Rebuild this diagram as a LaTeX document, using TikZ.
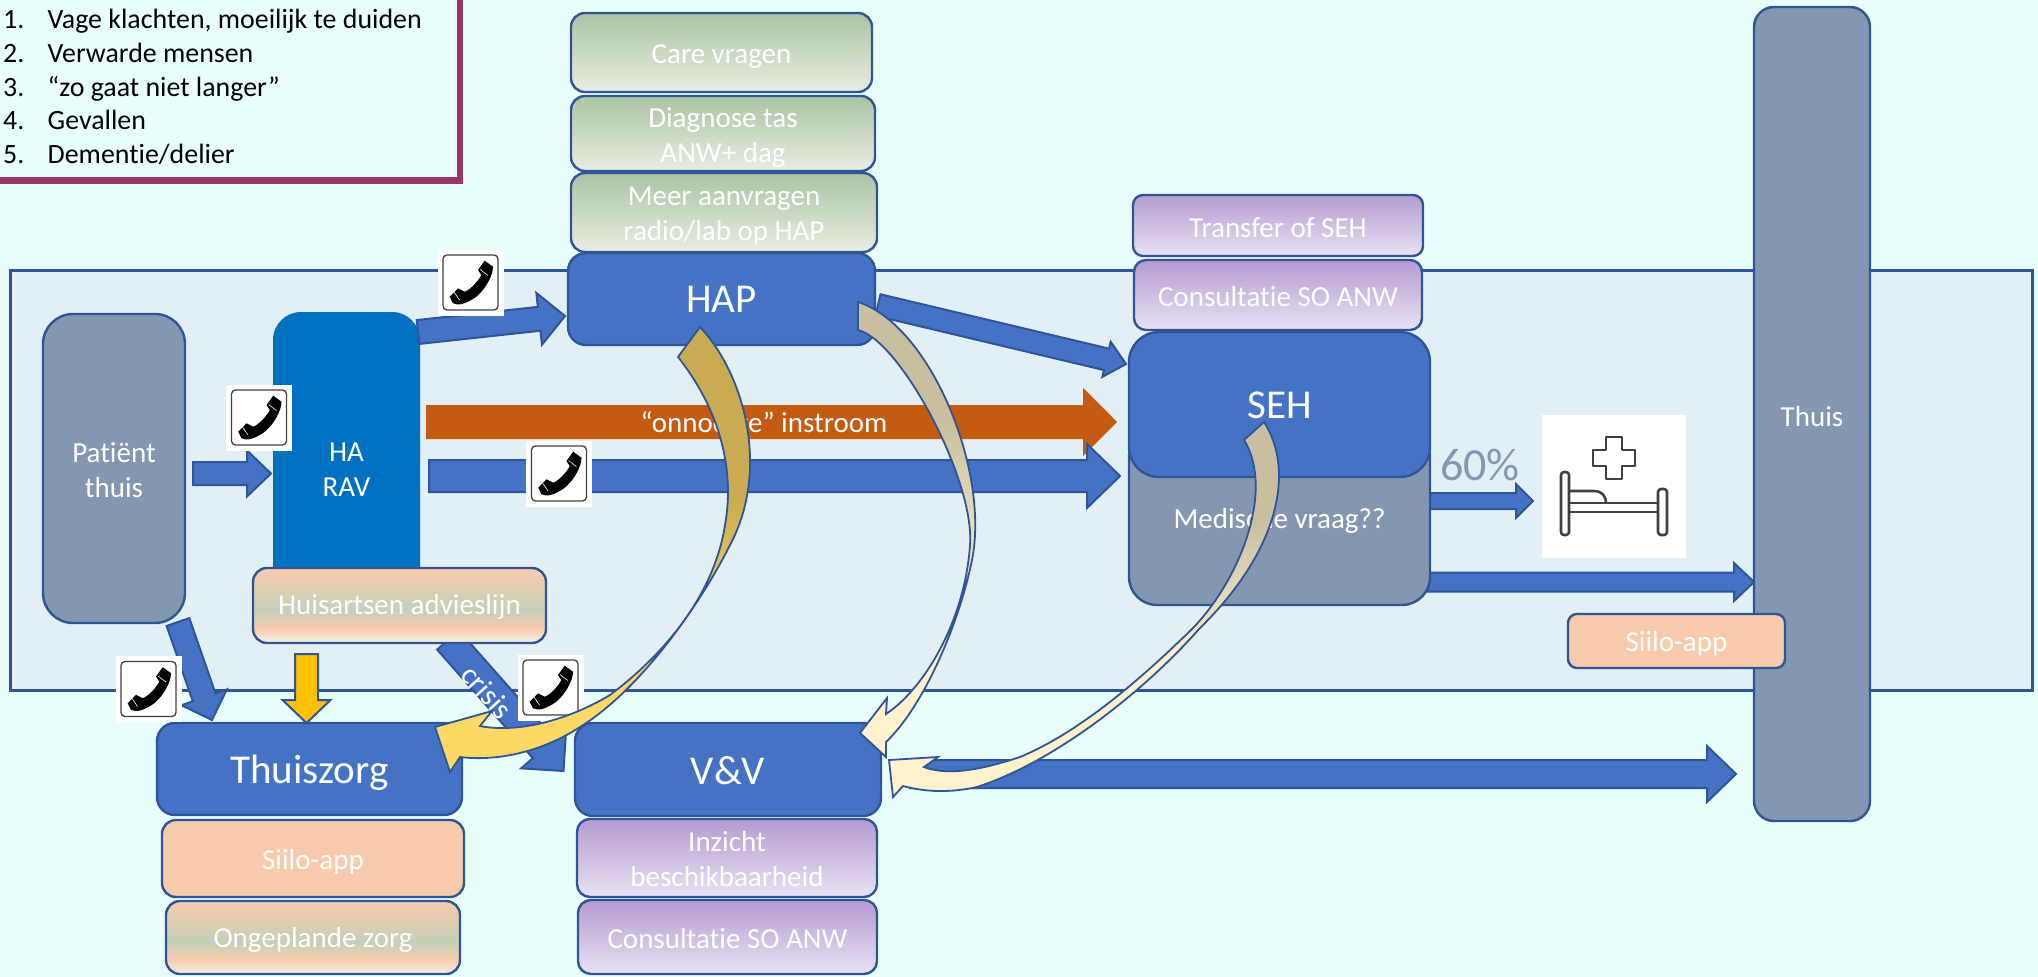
\documentclass[tikz,border=0pt]{standalone}
\usepackage{fontspec}
\setmainfont{Carlito}[Ligatures=NoCommon]
\usetikzlibrary{calc}
\definecolor{bgc}{HTML}{E9FFFD}
\definecolor{panelc}{HTML}{E2EFF4}
\definecolor{linec}{HTML}{2F5597}
\definecolor{bluec}{HTML}{4472C4}
\definecolor{rav}{HTML}{0070C0}
\definecolor{greyc}{HTML}{8497B0}
\definecolor{orangec}{HTML}{C55A11}
\definecolor{goldc}{HTML}{FFC000}
\definecolor{peachc}{HTML}{F8CBAD}
\definecolor{maroon}{HTML}{9B3565}
\definecolor{gtop}{HTML}{ABC4A3}
\definecolor{gbot}{HTML}{E9EDE3}
\definecolor{ptop}{HTML}{B49BD2}
\definecolor{pbot}{HTML}{E8E2F2}
\definecolor{pmid}{HTML}{C5D0B8}
\definecolor{pend}{HTML}{F0F2EC}
\definecolor{tan1}{HTML}{C9AC52}
\definecolor{yel1}{HTML}{FFD966}
\definecolor{tan2}{HTML}{C9BFA0}
\definecolor{cream}{HTML}{FFF2CC}
\pgfdeclareverticalshading{greensh}{100bp}{color(0bp)=(gbot); color(25bp)=(gbot); color(75bp)=(gtop); color(100bp)=(gtop)}
\pgfdeclareverticalshading{purplesh}{100bp}{color(0bp)=(pbot); color(25bp)=(pbot); color(75bp)=(ptop); color(100bp)=(ptop)}
\pgfdeclareverticalshading{peachsh}{100bp}{color(0bp)=(pend); color(25bp)=(pend); color(35bp)=(peachc); color(47bp)=(pmid); color(75bp)=(peachc); color(100bp)=(peachc)}
\pgfdeclareverticalshading{yellowsh}{100bp}{color(0bp)=(yel1); color(39bp)=(yel1); color(56bp)=(tan1); color(100bp)=(tan1)}
\pgfdeclareverticalshading{creamsh}{100bp}{color(0bp)=(cream); color(43bp)=(cream); color(62bp)=(tan2); color(100bp)=(tan2)}
% text line with its baseline a set distance below the node's centre line
\newcommand{\dn}[2]{\raisebox{-#1pt}[0pt][0pt]{#2}}
\tikzset{
  x=1pt,y=-1pt,
  boxbase/.style={draw=linec,line width=2.4pt,align=center,inner sep=0pt,text=white,font=\fontsize{29}{35}\selectfont},
  bigbox/.style={boxbase,fill=bluec,rounded corners=18pt,font=\fontsize{41}{48}\selectfont},
  greybox/.style={boxbase,fill=greyc},
  greenbox/.style={boxbase,shade,shading=greensh,rounded corners=14pt},
  purplebox/.style={boxbase,shade,shading=purplesh,rounded corners=13pt},
  peachbox/.style={boxbase,shade,shading=peachsh,rounded corners=14pt},
  siilobox/.style={boxbase,fill=peachc,rounded corners=12pt},
  arrowblue/.style={draw=linec,fill=bluec,line width=2pt,miter limit=20},
  arroworange/.style={fill=orangec},
  arrowgold/.style={draw=linec,fill=goldc,line width=2pt,miter limit=20},
  curveyellow/.style={draw=linec,line width=1.8pt,shade,shading=yellowsh,miter limit=20},
  curvecream/.style={draw=linec,line width=1.8pt,shade,shading=creamsh,miter limit=20},
  phonebg/.style={fill=white,minimum width=66pt,minimum height=66pt,inner sep=0pt},
  phoneinner/.style={draw=black!75,fill=white,line width=1.3pt,rounded corners=4pt,minimum width=55pt,minimum height=55pt,inner sep=0pt},
  bedline/.style={draw=black!75,line width=2.6pt,line join=round}
}
% [style]{from}{to}{half body}{half head}{head length}
\newcommand{\blockarrow}[6][arrowblue]{%
  \coordinate (ba@h) at ($(#3)!#6!(#2)$);
  \path[#1] ($(#2)!#4!90:(#3)$) -- ($(ba@h)!#4!90:(#3)$) -- ($(ba@h)!#5!90:(#3)$) -- (#3)
    -- ($(ba@h)!#5!-90:(#3)$) -- ($(ba@h)!#4!-90:(#3)$) -- ($(#2)!#4!-90:(#3)$) -- cycle;
}
\newcommand{\phoneicon}[3]{%
  \node[phonebg] (#1) at (#2,#3) {};
  \node[phoneinner] (#1in) at (#1.center) {};
  \begin{scope}[shift={($(#1.center)+(-27.5,-27.5)$)}]
    \fill[black] (41.7,5.7) -- (50,11.7) .. controls (50,20) and (43.3,33.3) .. (33.3,41.7)
      .. controls (23.3,49) and (15,51) .. (10,48.3) -- (6.7,41.7) -- (15,33.3) -- (21.7,36.7)
      .. controls (26.7,35) and (35,26.7) .. (38.3,20) -- (35,15) -- cycle;
    \draw[white,line width=.6pt] (37,14.5) -- (45,20.5) (11,37) -- (16.5,45);
  \end{scope}
}
\begin{document}
\begin{tikzpicture}
\useasboundingbox (0,0) rectangle (2038,977);
\fill[bgc] (0,0) rectangle (2038,977);

% legend
\node[draw=maroon,line width=6.5pt,fill=bgc,outer sep=0pt,minimum width=480pt,minimum height=200pt,inner sep=0pt,anchor=south east] (legendbox) at (460,180.5) {};
\node[anchor=west,inner sep=0pt,align=left,font=\fontsize{27.9}{33.6}\selectfont] (legend) at (3,87) {%
  \makebox[44.5pt][l]{1.}Vage klachten, moeilijk te duiden\\
  \makebox[44.5pt][l]{2.}Verwarde mensen\\
  \makebox[44.5pt][l]{3.}“zo gaat niet langer”\\
  \makebox[44.5pt][l]{4.}Gevallen\\
  \makebox[44.5pt][l]{5.}Dementie/delier};

% panel
\node[draw=linec,fill=panelc,line width=3pt,minimum width=2022pt,minimum height=420pt,inner sep=0pt] (panel) at (1021,480) {};

% Thuis column
\node[greybox,rounded corners=20pt,minimum width=116pt,minimum height=814pt] (thuis) at (1812,414) {\dn{12.5}{Thuis}};

% coordinates for arrow ends
\coordinate (patS) at (193,473.5); \coordinate (haL) at (271,473.5);
\coordinate (haS) at (418,332);    \coordinate (hapL) at (565,316);
\coordinate (raS) at (429,476);    \coordinate (sehL) at (1120,476);
\coordinate (orS) at (426,422);    \coordinate (sehO) at (1117,422);
\coordinate (hapS) at (878,305);   \coordinate (sehT) at (1126,364);
\coordinate (sehA) at (1430,501);  \coordinate (bedL) at (1533,501);
\coordinate (sehB) at (1428,582);  \coordinate (thuisL) at (1754,582);
\coordinate (vvS) at (910,774);    \coordinate (thuisB) at (1736,774);
\coordinate (patB) at (178,622);   \coordinate (tzL) at (212,720);
\coordinate (advS) at (306.5,654); \coordinate (tzG) at (306.5,723);
\coordinate (advC) at (448,640);   \coordinate (vvC) at (563.5,771);

% HA / RAV and Patient
\node[boxbase,draw=none,fill=rav,rounded corners=28pt,minimum width=147pt,minimum height=312pt] (ha) at (346.5,468) {\dn{10.5}{HA}\\\dn{10.5}{RAV}};
\node[greybox,rounded corners=30pt,minimum width=142pt,minimum height=309pt] (pat) at (114,468.5) {\dn{11}{Patiënt}\\\dn{11}{thuis}};

% straight arrows
\blockarrow{patS}{haL}{11.5pt}{23pt}{24pt}
\blockarrow{haS}{hapL}{12pt}{26pt}{26pt}
\blockarrow[arroworange]{orS}{sehO}{17pt}{34pt}{34pt}
\node[text=white,font=\fontsize{29}{35}\selectfont,inner sep=0pt] (onn) at (764,425) {“onnodige” instroom};
\blockarrow{raS}{sehL}{16pt}{32pt}{33pt}
\blockarrow{hapS}{sehT}{11pt}{18pt}{20pt}
\blockarrow{sehA}{bedL}{8pt}{17pt}{17pt}
\blockarrow{sehB}{thuisL}{9.5pt}{19pt}{20pt}
\blockarrow{vvS}{thuisB}{14pt}{28pt}{29pt}
\blockarrow{patB}{tzL}{12pt}{24pt}{24pt}
\blockarrow[arrowgold]{advS}{tzG}{11.5pt}{24pt}{23pt}
\blockarrow{advC}{vvC}{14.5pt}{30pt}{30pt}
\node[text=white,rotate=-48,font=\fontsize{30}{35}\selectfont,inner sep=0pt] (crisis) at (487,692) {crisis};

% top stack
\node[greenbox,minimum width=301pt,minimum height=79pt] (care) at (721.5,52.5) {\dn{10.5}{Care vragen}};
\node[greenbox,minimum width=304pt,minimum height=75pt] (diag) at (723,133.5) {\dn{11}{Diagnose tas}\\\dn{11}{ANW+ dag}};
\node[greenbox,minimum width=306pt,minimum height=79pt] (meer) at (724,212.5) {\dn{10.5}{Meer aanvragen}\\\dn{10.5}{radio/lab op HAP}};
\node[bigbox,minimum width=307pt,minimum height=92pt] (hap) at (721.5,299) {\dn{13}{HAP}};

% adviesline
\node[peachbox,minimum width=293pt,minimum height=75pt] (adv) at (399.5,605.5) {\dn{9}{Huisartsen advieslijn}};

% bottom stacks
\node[bigbox,minimum width=305pt,minimum height=92pt] (tz) at (309.5,769) {\dn{14}{Thuiszorg}};
\node[siilobox,rounded corners=14pt,minimum width=302pt,minimum height=77pt] (siilo1) at (313,858.5) {\dn{11}{Siilo-app}};
\node[peachbox,minimum width=294pt,minimum height=73pt] (onge) at (313,937.5) {\dn{9.5}{Ongeplande zorg}};
\node[bigbox,minimum width=306pt,minimum height=93pt] (vv) at (728,769.5) {\dn{14.5}{V\&V}};
\node[purplebox,minimum width=300pt,minimum height=78pt] (inz) at (727,858) {\dn{11}{Inzicht}\\\dn{11}{beschikbaarheid}};
\node[purplebox,minimum width=299pt,minimum height=74pt] (cons1) at (727.5,937) {\dn{11}{Consultatie SO ANW}};

% SEH stack
\node[purplebox,rounded corners=10pt,minimum width=290pt,minimum height=61pt] (trans) at (1278,225.5) {\dn{11.5}{Transfer of SEH}};
\node[purplebox,rounded corners=12pt,minimum width=288pt,minimum height=70pt] (cons2) at (1278,295) {\dn{11}{Consultatie SO ANW}};
\node[greybox,rounded corners=28pt,minimum width=301pt,minimum height=175pt] (med) at (1279.5,517.5) {\dn{11}{Medische vraag??}};
\node[bigbox,rounded corners=30pt,minimum width=301pt,minimum height=145pt] (seh) at (1279.5,404.5) {\dn{14}{SEH}};

% 60 %, bed, Siilo
\node[text=greyc,font=\fontsize{46}{50}\selectfont,inner sep=0pt] (pct) at (1480,465) {60\%};
\node[fill=white,minimum width=144pt,minimum height=143pt,inner sep=0pt] (bedimg) at (1614,486.5) {};
\draw[bedline] (1606,437) -- (1622,437) -- (1622,450) -- (1635,450) -- (1635,466) -- (1622,466) -- (1622,479) -- (1606,479) -- (1606,466) -- (1593,466) -- (1593,450) -- (1606,450) -- cycle;
\draw[bedline,rounded corners=3pt] (1561,472) rectangle (1569,535);
\draw[bedline,rounded corners=3pt] (1658,489) rectangle (1667,535);
\draw[bedline] (1569,503) -- (1658,503) (1569,512) -- (1658,512);
\draw[bedline] (1569,491) -- (1594,491) .. controls (1602,491) and (1606,496) .. (1606,503);
\node[siilobox,rounded corners=9pt,minimum width=217pt,minimum height=54pt] (siilo2) at (1676.5,641) {\dn{10.5}{Siilo-app}};

% phones
\phoneicon{ph1}{470.5}{282.5}
\phoneicon{ph2}{259}{417.5}
\phoneicon{ph3}{559}{473.5}
\phoneicon{ph4}{148.5}{689}
\phoneicon{ph5}{550.5}{687.5}

% curved arrows
\path[curveyellow] (700,327) .. controls (745,375) and (770,470) .. (730,545)
  .. controls (700,605) and (640,690) .. (580,727) .. controls (545,750) and (500,762) .. (460,757)
  -- (450,772) -- (435,727) -- (492,711) -- (480,726)
  .. controls (515,733) and (565,722) .. (610,695) .. controls (670,650) and (715,590) .. (725,525)
  .. controls (735,470) and (720,410) .. (678,357) -- cycle;
\path[curvecream] (858,302) .. controls (930,325) and (990,470) .. (972,560)
  .. controls (960,620) and (925,705) .. (886,742)
  -- (886,757) -- (860,733) -- (887,698) -- (886,714)
  .. controls (925,688) and (965,620) .. (970,545) .. controls (975,480) and (900,340) .. (858,330) -- cycle;
\path[curvecream] (1264,422) .. controls (1295,470) and (1280,550) .. (1199,629)
  .. controls (1150,685) and (1060,760) .. (977,787) .. controls (950,793) and (925,792) .. (903,786)
  -- (893,797) -- (889,760) -- (938,757) -- (924,767)
  .. controls (945,775) and (975,772) .. (1020,757) .. controls (1085,730) and (1150,670) .. (1192,629)
  .. controls (1240,580) and (1275,490) .. (1244,440) -- cycle;
\end{tikzpicture}
\end{document}
